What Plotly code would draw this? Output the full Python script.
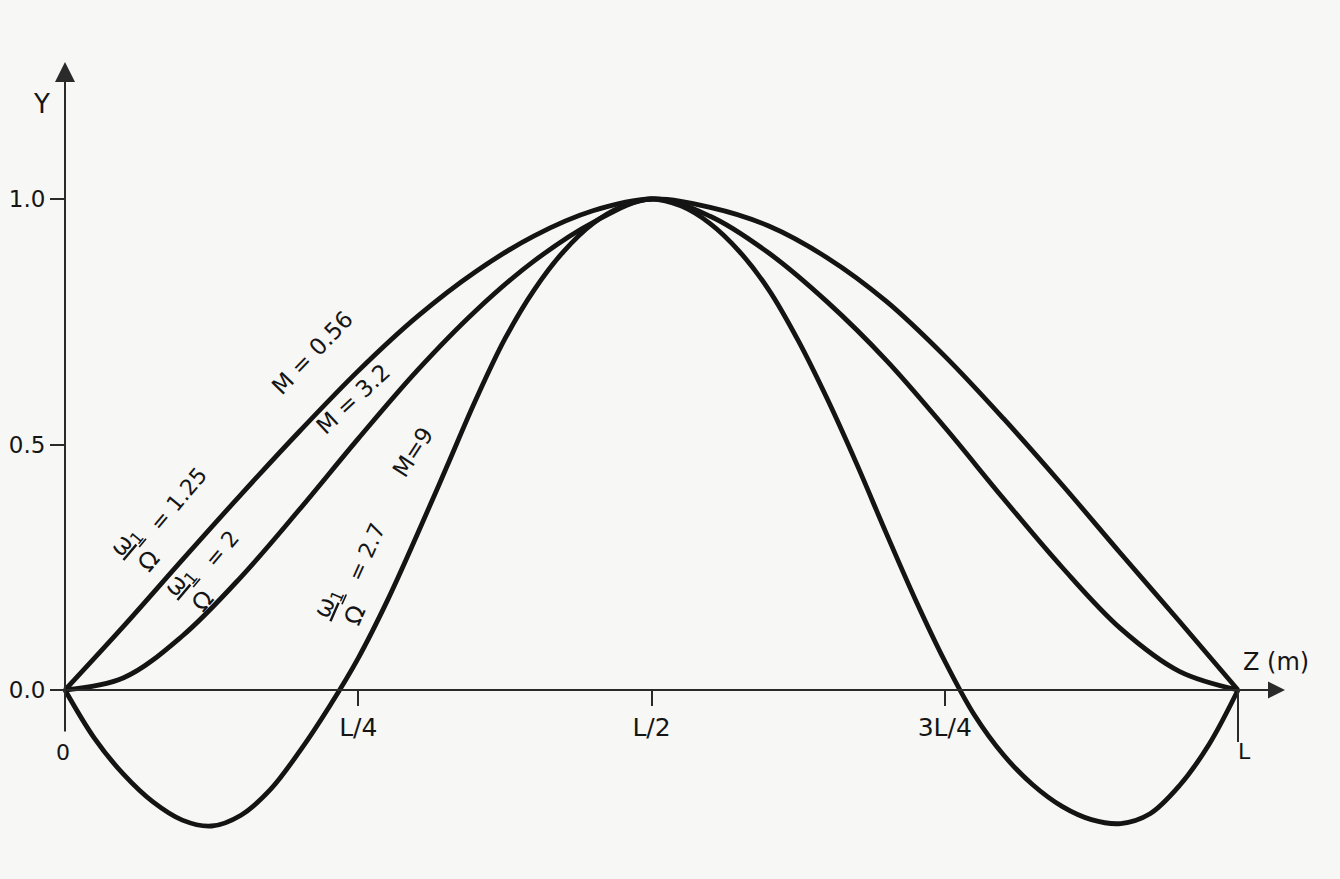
import plotly.graph_objects as go

# ---------------- data ----------------
# Mode shapes Y(z) along the span, z expressed as a fraction of L
z_m056 = [0.0, 0.05, 0.10, 0.15, 0.20, 0.25, 0.30, 0.35, 0.40, 0.45, 0.50,
          0.55, 0.60, 0.65, 0.70, 0.75, 0.80, 0.85, 0.90, 0.95, 1.0]
y_m056 = [0.0, 0.130, 0.265, 0.398, 0.527, 0.650, 0.760, 0.852, 0.925, 0.976, 1.0,
          0.983, 0.945, 0.880, 0.792, 0.680, 0.553, 0.418, 0.278, 0.140, 0.0]

z_m32 = [0.0, 0.05, 0.10, 0.15, 0.20, 0.25, 0.30, 0.35, 0.40, 0.45, 0.50,
         0.55, 0.60, 0.65, 0.70, 0.75, 0.80, 0.85, 0.90, 0.95, 1.0]
y_m32 = [0.0, 0.025, 0.110, 0.230, 0.368, 0.512, 0.650, 0.772, 0.874, 0.952, 1.0,
         0.965, 0.890, 0.790, 0.672, 0.535, 0.390, 0.250, 0.125, 0.038, 0.0]

z_m9 = [0.0, 0.025, 0.05, 0.075, 0.10, 0.125, 0.15, 0.175, 0.20, 0.225, 0.25,
        0.275, 0.30, 0.325, 0.35, 0.375, 0.40, 0.425, 0.45, 0.475, 0.50,
        0.525, 0.55, 0.575, 0.60, 0.625, 0.65, 0.675, 0.70, 0.725, 0.75,
        0.775, 0.80, 0.825, 0.85, 0.875, 0.90, 0.925, 0.95, 0.975, 1.0]
y_m9 = [0.0, -0.098, -0.172, -0.228, -0.265, -0.277, -0.255, -0.203, -0.125, -0.035, 0.065,
        0.183, 0.315, 0.452, 0.590, 0.715, 0.815, 0.893, 0.950, 0.985, 1.0,
        0.986, 0.950, 0.893, 0.815, 0.712, 0.592, 0.460, 0.320, 0.184, 0.059,
        -0.050, -0.132, -0.193, -0.237, -0.264, -0.272, -0.252, -0.195, -0.112, 0.0]

curve_labels = ["M = 0.56", "M = 3.2", "M=9"]
ratio_labels = ["= 1.25", "= 2", "= 2.7"]

tick_z = [0.25, 0.5, 0.75]
tick_z_text = ["L/4", "L/2", "3L/4"]
tick_y = [0.0, 0.5, 1.0]
tick_y_text = ["0.0", "0.5", "1.0"]

# ---------------- layout helpers ----------------
W, H = 1340, 879
X0_PX, L_PX = 65, 1173      # pixel of z=0 and pixel length of L
Y0_PX, U_PX = 690, 491      # pixel of Y=0 and pixel length of one unit


def zx(px):
    return (px - X0_PX) / L_PX


def yy(py):
    return (Y0_PX - py) / U_PX


FONT = "DejaVu Sans"
INK = "#141414"
AX = "#2a2a2a"
TXT = "#151515"
BG = "#f7f7f5"

fig = go.Figure()
for zs, ys in [(z_m056, y_m056), (z_m32, y_m32), (z_m9, y_m9)]:
    fig.add_trace(go.Scatter(x=zs, y=ys, mode="lines",
                             line=dict(color=INK, width=4.8, shape="spline", smoothing=1.0),
                             hoverinfo="skip", showlegend=False))

ann = []
# axis arrows (lines with heads)
ann.append(dict(x=0, y=yy(62), ax=0, ay=yy(733), xref="x", yref="y", axref="x", ayref="y",
                text="", showarrow=True, arrowhead=2, arrowsize=2.0, arrowwidth=2,
                arrowcolor=AX, standoff=0, startstandoff=0))
ann.append(dict(x=zx(1285), y=0, ax=0, ay=0, xref="x", yref="y", axref="x", ayref="y",
                text="", showarrow=True, arrowhead=2, arrowsize=1.7, arrowwidth=2,
                arrowcolor=AX, standoff=0, startstandoff=0))


def txt(s, px, py, size=22, angle=0):
    ann.append(dict(x=zx(px), y=yy(py), xref="x", yref="y", text=s, showarrow=False,
                    textangle=angle, xanchor="center", yanchor="middle",
                    font=dict(family=FONT, size=size, color=TXT)))


txt("Y", 41, 104, 26)
txt("Z (m)", 1276, 662, 24)
txt("0", 63, 752, 22)
txt("L", 1244, 751, 22)

# curve labels
txt(curve_labels[0], 312, 353, 23, -46)
txt(curve_labels[1], 353, 399, 23, -43)
txt(curve_labels[2], 413, 452, 23, -57)

frac = "<u>ω<sub>1</sub></u><br>Ω"
txt(frac, 136, 551, 24, -50)
txt(ratio_labels[0], 178, 499, 22, -50)
txt(frac, 190, 591, 24, -50)
txt(ratio_labels[1], 221, 549, 22, -50)
txt(frac, 340, 609, 24, -66)
txt(ratio_labels[2], 366, 552, 22, -66)

shapes = [dict(type="line", xref="x", yref="y", x0=1, x1=1, y0=0, y1=yy(742),
               line=dict(color=AX, width=2))]

fig.update_layout(
    width=W, height=H, template="none",
    margin=dict(l=0, r=0, t=0, b=0, pad=0),
    paper_bgcolor=BG, plot_bgcolor=BG,
    showlegend=False,
    annotations=ann, shapes=shapes,
    xaxis=dict(range=[zx(0), zx(W)], anchor="free", position=(H - Y0_PX) / H,
               tickvals=tick_z, ticktext=tick_z_text, ticks="outside", ticklen=15,
               tickwidth=2, tickcolor=AX, showline=False, showgrid=False, zeroline=False,
               tickfont=dict(family=FONT, size=25, color=TXT), automargin=False,
               fixedrange=True),
    yaxis=dict(range=[yy(H), yy(0)], anchor="free", position=X0_PX / W,
               tickvals=tick_y, ticktext=tick_y_text, ticks="outside", ticklen=15,
               tickwidth=2, tickcolor=AX, showline=False, showgrid=False, zeroline=False,
               tickfont=dict(family=FONT, size=23, color=TXT), automargin=False,
               fixedrange=True),
)

fig.write_html("out.html", config={"displayModeBar": False},
               post_script="document.body.style.margin='0';document.body.style.overflow='hidden';")
